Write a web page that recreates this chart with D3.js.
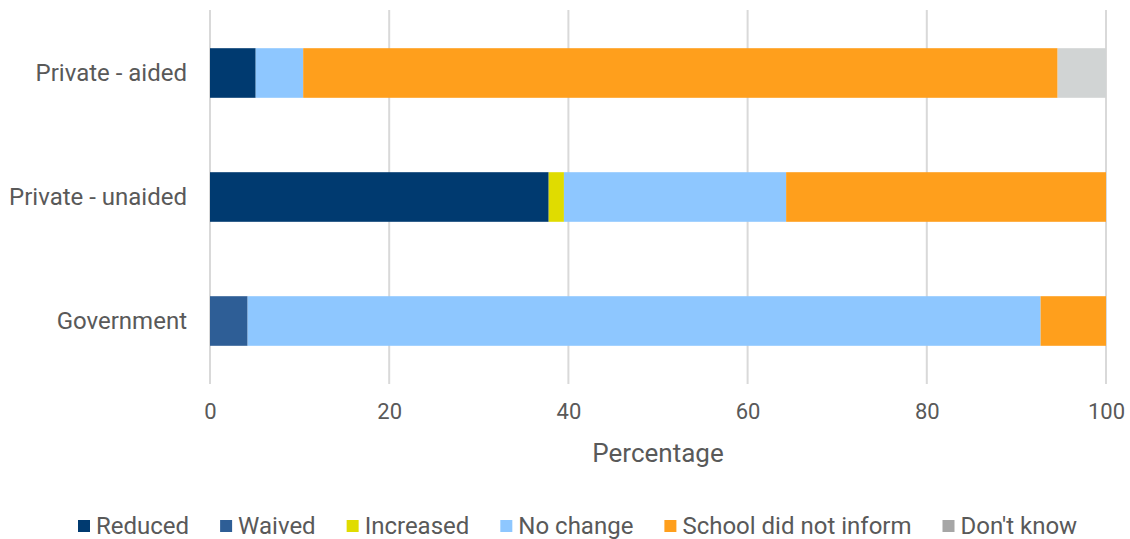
<!DOCTYPE html>
<html><head><meta charset="utf-8">
<script src="https://cdn.jsdelivr.net/npm/d3@7"></script>
<style>body{margin:0;background:#fff}svg{display:block;font-family:Roboto,sans-serif}</style>
</head><body><svg id="c" width="1130" height="539"></svg>
<script>
const categories = ["Private - aided", "Private - unaided", "Government"];
const seriesNames = ["Reduced", "Waived", "Increased", "No change", "School did not inform", "Don't know"];
const reduced   = [5.1, 37.8, 0];
const waived    = [0, 0, 4.2];
const increased = [0, 1.7, 0];
const noChange  = [5.3, 24.8, 88.5];
const notInform = [84.2, 35.7, 7.3];
const dontKnow  = [5.4, 0, 0];
const xTicks = [0, 20, 40, 60, 80, 100];
const barColors = ["#003a70", "#2e5e96", "#e0dc00", "#8ec7ff", "#ff9f1c", "#d1d4d4"];
const legendColors = ["#003a70", "#2e5e96", "#e0dc00", "#8ec7ff", "#ff9f1c", "#a6a6a6"];

const values = [reduced, waived, increased, noChange, notInform, dontKnow];
const rows = categories.map((c, i) => {
  const r = {cat: c};
  seriesNames.forEach((s, j) => r[s] = values[j][i]);
  return r;
});
const stacked = d3.stack().keys(seriesNames)(rows);

const svg = d3.select("#c");
const x = d3.scaleLinear().domain([0, 100]).range([210, 1106]);
const y = d3.scaleBand().domain(categories).range([11, 383]).paddingInner(0.6).paddingOuter(0.3);
const textCol = "#595959";

// gridlines
svg.append("g").selectAll("line").data(xTicks).join("line")
  .attr("x1", d => x(d)).attr("x2", d => x(d))
  .attr("y1", 10).attr("y2", 384)
  .attr("stroke", "#d9d9d9").attr("stroke-width", 2);

// bars
svg.append("g").selectAll("g").data(stacked).join("g")
  .attr("fill", (d, i) => barColors[i])
  .selectAll("rect").data(d => d).join("rect")
  .attr("x", d => x(d[0])).attr("width", d => x(d[1]) - x(d[0]))
  .attr("y", d => y(d.data.cat)).attr("height", y.bandwidth());

// x axis
const xa = svg.append("g").attr("transform", "translate(0,400)")
  .call(d3.axisBottom(x).tickValues(xTicks).tickSize(0).tickPadding(0));
xa.select(".domain").remove();
xa.selectAll("text").attr("fill", textCol).attr("font-size", 22)
  .attr("font-family", "Roboto").attr("dy", "0.85em");

// y axis
const ya = svg.append("g").attr("transform", "translate(187,0)")
  .call(d3.axisLeft(y).tickSize(0).tickPadding(0));
ya.select(".domain").remove();
ya.selectAll("text").attr("fill", textCol).attr("font-size", 24)
  .attr("font-family", "Roboto");

svg.append("text").attr("x", x(50)).attr("y", 462).attr("text-anchor", "middle")
  .attr("fill", textCol).attr("font-size", 26).text("Percentage");

// legend
const lg = svg.append("g").attr("transform", "translate(0,526)");
let lx = 78;
seriesNames.forEach((s, i) => {
  lg.append("rect").attr("x", lx).attr("y", -6).attr("width", 12).attr("height", 12).attr("fill", legendColors[i]);
  const t = lg.append("text").attr("x", lx + 18).attr("y", 0).attr("dy", "0.35em")
    .attr("fill", textCol).attr("font-size", 24).text(s);
  lx += 18 + t.node().getComputedTextLength() + 31;
});
</script></body></html>
